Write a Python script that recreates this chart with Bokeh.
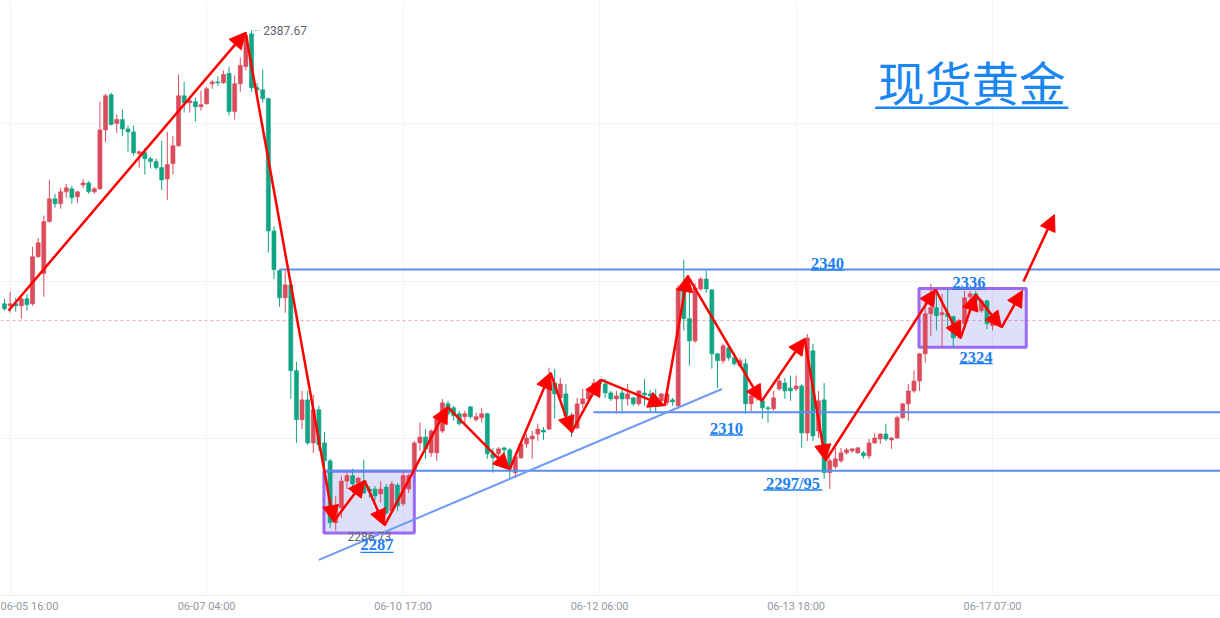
from bokeh.plotting import figure
from bokeh.models import Range1d, FixedTicker, ColumnDataSource, Arrow, NormalHead, Span, Label
from bokeh.embed import file_html
from bokeh.resources import INLINE

# ---------------- data (hourly candles, index based) ----------------
open_ = [2332.5, 2332.1, 2332.5, 2332.1, 2333.5, 2332.5, 2342.0, 2338.6, 2349.1, 2353.7,
         2352.7, 2355.1, 2355.7, 2354.1, 2356.5, 2356.9, 2355.1, 2355.7, 2367.6, 2374.7,
         2368.9, 2369.7, 2367.8, 2367.2, 2362.8, 2363.0, 2361.8, 2361.2, 2360.0, 2357.7,
         2360.8, 2364.4, 2374.5, 2373.1, 2373.3, 2372.3, 2372.9, 2376.9, 2377.3, 2377.1,
         2379.0, 2371.3, 2376.9, 2380.4, 2387.0, 2376.1, 2375.7, 2373.9, 2347.2, 2339.2,
         2333.7, 2336.3, 2319.0, 2309.1, 2313.1, 2304.4, 2311.1, 2304.4, 2300.8, 2288.3,
         2291.3, 2296.7, 2297.8, 2296.3, 2296.7, 2295.1, 2295.1, 2294.1, 2295.5, 2290.7,
         2295.9, 2292.1, 2295.1, 2298.8, 2304.4, 2305.6, 2302.4, 2302.4, 2306.8, 2312.3,
         2311.5, 2310.3, 2309.7, 2311.7, 2309.1, 2309.5, 2310.3, 2302.2, 2302.2, 2303.4,
         2303.0, 2298.4, 2301.4, 2304.2, 2305.2, 2306.2, 2307.0, 2307.2, 2316.5, 2313.5,
         2314.3, 2309.9, 2307.4, 2312.3, 2313.3, 2314.9, 2316.9, 2316.3, 2314.5, 2313.3,
         2314.5, 2313.3, 2313.5, 2312.3, 2314.5, 2314.3, 2313.5, 2312.9, 2312.5, 2313.1,
         2311.9, 2335.5, 2329.5, 2325.0, 2335.5, 2337.5, 2335.3, 2322.4, 2321.0, 2323.6,
         2321.6, 2320.0, 2320.4, 2312.3, 2313.5, 2312.9, 2311.5, 2311.3, 2315.3, 2316.5,
         2315.5, 2315.3, 2315.9, 2306.4, 2323.0, 2306.8, 2313.1, 2298.4, 2299.6, 2300.8,
         2302.4, 2302.8, 2302.4, 2302.4, 2301.8, 2304.4, 2305.2, 2306.2, 2305.0, 2305.4,
         2309.5, 2312.3, 2314.9, 2316.9, 2322.4, 2330.5, 2331.7, 2330.3, 2330.5, 2329.9,
         2326.0, 2328.5, 2333.9, 2334.5, 2331.1, 2333.1, 2328.1]
high = [2333.5, 2334.9, 2333.7, 2334.3, 2334.5, 2344.0, 2345.8, 2350.3, 2357.5, 2354.7,
        2355.9, 2356.7, 2356.3, 2355.3, 2357.7, 2357.3, 2356.1, 2373.3, 2374.9, 2375.1,
        2370.7, 2371.7, 2368.5, 2368.5, 2363.4, 2364.0, 2362.2, 2361.8, 2365.4, 2367.2,
        2366.4, 2378.8, 2377.3, 2374.1, 2374.1, 2375.5, 2376.3, 2377.7, 2378.4, 2379.6,
        2380.4, 2378.6, 2382.2, 2387.4, 2387.67, 2377.1, 2379.8, 2374.1, 2348.1, 2339.4,
        2339.2, 2337.1, 2320.8, 2314.9, 2314.9, 2314.1, 2311.9, 2306.6, 2301.2, 2293.7,
        2297.8, 2298.4, 2299.2, 2297.6, 2301.0, 2295.7, 2295.7, 2296.7, 2296.1, 2296.7,
        2296.3, 2298.4, 2298.2, 2304.8, 2308.5, 2307.2, 2307.2, 2309.5, 2313.3, 2312.9,
        2311.9, 2310.9, 2310.9, 2311.9, 2310.5, 2311.5, 2310.5, 2303.4, 2303.6, 2303.6,
        2303.4, 2302.4, 2304.8, 2306.2, 2306.8, 2308.3, 2307.6, 2319.6, 2319.4, 2317.5,
        2316.3, 2310.5, 2313.5, 2315.3, 2315.3, 2317.3, 2317.3, 2317.3, 2314.9, 2314.9,
        2315.3, 2316.3, 2313.7, 2315.1, 2317.3, 2315.1, 2315.3, 2314.5, 2314.5, 2313.5,
        2336.3, 2341.4, 2337.1, 2336.7, 2337.9, 2339.2, 2335.5, 2322.6, 2324.4, 2324.0,
        2322.6, 2321.6, 2321.4, 2314.3, 2315.3, 2313.5, 2311.9, 2314.9, 2318.0, 2317.5,
        2318.0, 2318.0, 2316.3, 2326.4, 2324.4, 2314.9, 2316.5, 2301.4, 2303.4, 2303.4,
        2303.4, 2303.4, 2303.6, 2302.8, 2305.2, 2306.4, 2306.4, 2308.3, 2305.6, 2309.9,
        2312.5, 2316.3, 2319.0, 2322.6, 2333.1, 2336.5, 2334.7, 2334.5, 2335.5, 2330.1,
        2329.5, 2335.1, 2335.1, 2335.1, 2333.5, 2333.3, 2329.5]
low = [2331.1, 2330.7, 2330.9, 2329.5, 2331.1, 2332.1, 2341.8, 2333.9, 2348.9, 2351.9,
       2351.7, 2353.9, 2352.7, 2352.9, 2355.9, 2354.7, 2354.7, 2355.5, 2365.2, 2368.5,
       2367.0, 2366.4, 2363.2, 2362.4, 2360.0, 2358.6, 2359.8, 2359.6, 2355.5, 2353.5,
       2358.6, 2364.2, 2371.1, 2371.1, 2369.3, 2371.5, 2372.7, 2375.9, 2376.5, 2376.9,
       2370.5, 2369.7, 2375.3, 2379.6, 2375.3, 2375.1, 2373.1, 2342.8, 2337.5, 2331.9,
       2330.7, 2313.3, 2304.4, 2307.2, 2304.0, 2302.4, 2302.8, 2298.8, 2287.2, 2286.73,
       2289.3, 2295.1, 2294.3, 2295.7, 2294.1, 2293.3, 2292.7, 2292.3, 2289.9, 2290.3,
       2290.7, 2291.7, 2294.3, 2297.8, 2302.8, 2301.2, 2301.6, 2300.8, 2306.4, 2309.9,
       2308.9, 2307.9, 2308.3, 2309.3, 2308.7, 2308.5, 2301.2, 2298.4, 2301.4, 2300.8,
       2297.3, 2297.3, 2301.2, 2303.4, 2301.2, 2304.8, 2305.0, 2307.0, 2309.3, 2312.9,
       2309.5, 2305.6, 2307.2, 2311.5, 2312.9, 2314.5, 2315.7, 2313.5, 2312.9, 2310.3,
       2310.3, 2311.9, 2311.9, 2311.9, 2311.9, 2310.5, 2310.5, 2311.9, 2311.9, 2311.9,
       2311.3, 2327.1, 2320.0, 2324.6, 2335.1, 2334.7, 2319.4, 2315.5, 2320.4, 2321.0,
       2320.0, 2319.6, 2310.3, 2310.5, 2312.9, 2309.3, 2308.5, 2310.9, 2314.9, 2313.3,
       2312.9, 2314.9, 2303.4, 2304.8, 2304.8, 2305.4, 2297.1, 2295.1, 2299.2, 2300.4,
       2302.0, 2302.4, 2302.2, 2301.2, 2301.2, 2304.2, 2304.2, 2304.8, 2303.2, 2305.2,
       2309.3, 2308.9, 2314.5, 2314.9, 2320.6, 2326.0, 2327.1, 2323.6, 2327.6, 2323.6,
       2325.4, 2327.4, 2333.1, 2332.5, 2330.7, 2327.4, 2327.1]
close = [2331.5, 2332.5, 2332.1, 2333.5, 2332.3, 2342.0, 2344.8, 2349.1, 2353.7, 2352.7,
         2355.1, 2355.9, 2353.9, 2355.1, 2356.9, 2355.1, 2355.7, 2367.6, 2374.5, 2368.7,
         2369.7, 2367.8, 2367.2, 2363.0, 2363.2, 2361.8, 2361.2, 2360.0, 2357.5, 2360.6,
         2364.4, 2374.5, 2373.1, 2373.5, 2372.3, 2372.7, 2375.9, 2377.3, 2377.1, 2378.8,
         2371.3, 2376.9, 2380.6, 2386.6, 2376.1, 2375.7, 2373.9, 2347.2, 2339.4, 2333.7,
         2336.3, 2319.0, 2309.1, 2313.1, 2304.4, 2311.1, 2304.0, 2300.8, 2288.3, 2291.3,
         2296.7, 2297.8, 2296.1, 2297.3, 2294.3, 2294.7, 2293.7, 2295.1, 2290.3, 2296.1,
         2291.7, 2297.8, 2297.8, 2304.4, 2305.6, 2303.2, 2306.8, 2309.3, 2312.5, 2310.3,
         2309.9, 2308.3, 2310.3, 2309.7, 2309.7, 2310.3, 2302.2, 2301.4, 2303.2, 2303.0,
         2299.2, 2301.6, 2304.2, 2305.4, 2305.8, 2307.2, 2306.6, 2315.9, 2314.3, 2316.3,
         2309.9, 2307.4, 2312.3, 2313.3, 2314.9, 2316.5, 2316.3, 2314.5, 2313.3, 2313.9,
         2313.3, 2314.3, 2312.3, 2314.9, 2314.1, 2313.9, 2312.9, 2314.3, 2314.3, 2312.7,
         2335.7, 2329.5, 2325.0, 2335.7, 2337.5, 2335.5, 2322.4, 2321.0, 2324.0, 2321.6,
         2320.4, 2321.0, 2312.3, 2313.9, 2314.9, 2311.5, 2311.3, 2313.5, 2316.9, 2314.9,
         2314.9, 2315.9, 2306.4, 2325.6, 2305.8, 2312.9, 2298.4, 2300.8, 2301.2, 2302.4,
         2303.0, 2303.2, 2303.4, 2301.8, 2304.4, 2305.4, 2306.2, 2305.2, 2305.4, 2309.5,
         2312.3, 2314.9, 2316.9, 2322.4, 2330.5, 2331.7, 2330.1, 2330.7, 2329.9, 2325.6,
         2329.1, 2333.7, 2334.5, 2333.1, 2333.1, 2328.5, 2329.1]

tick_idx = [1, 36, 71, 106, 141, 176]
tick_labels = ["06-05 16:00", "06-07 04:00", "06-10 17:00", "06-12 06:00", "06-13 18:00", "06-17 07:00"]
y_grid = [2305.3, 2337.0, 2368.9]

# hand-drawn annotations (index, price)
pivot_idx = [0.71, 42.93, 58.6, 64.13, 67.69, 78.91, 89.95, 97.26, 100.99, 106.16,
             117.56, 121.66, 134.84, 142.5, 146.24, 165.84, 170.29, 172.96, 177.59, 181.33]
pivot_price = [2331.1, 2387.3, 2288.5, 2296.8, 2287.7, 2311.7, 2299.0, 2318.6, 2306.5, 2317.2,
               2311.9, 2338.2, 2312.8, 2325.5, 2300.8, 2335.4, 2325.5, 2334.4, 2327.7, 2335.2]
breakout_idx = [181.51, 187.03]
breakout_price = [2337.0, 2350.5]

level_price = [2339.4, 2310.6, 2298.8]
level_start = [48.98, 104.9, 56.9]

box_left = [56.9, 162.9]
box_right = [73.0, 182.0]
box_top = [2298.7, 2335.6]
box_bottom = [2286.2, 2323.7]

trend_idx = [56.0, 127.8]
trend_price = [2280.8, 2315.3]

label_text = ["2340", "2310", "2297/95", "2287", "2336", "2324"]
label_idx = [146.6, 128.6, 140.45, 66.35, 171.8, 173.05]
label_mid = [2340.7, 2307.4, 2296.3, 2283.9, 2336.8, 2321.7]
label_uline = [2339.3, 2306.0, 2294.9, 2282.3, 2335.4, 2320.4]
label_half = [2.95, 2.95, 5.25, 2.95, 2.95, 2.95]

title_text = "现货黄金"
title_idx = 172.3
title_price = 2377.6
title_line_idx = [155.1, 189.5]
title_line_price = 2372.1

# ---------------- figure ----------------
RED = "#dc4b5c"
GREEN = "#10a585"
BLUE = "#5a8ef2"
LBLUE = "#1c80f2"

p = figure(width=1220, height=618, x_range=Range1d(-0.712, 216.6), y_range=Range1d(2273.6, 2393.73),
           output_backend="svg", toolbar_location=None,
           min_border_left=0, min_border_right=0, min_border_top=0, min_border_bottom=23)
p.outline_line_color = None
p.background_fill_color = "white"
p.yaxis.visible = False

p.xaxis.ticker = FixedTicker(ticks=tick_idx)
p.xaxis.major_label_overrides = {t: l for t, l in zip(tick_idx, tick_labels)}
p.xaxis.major_tick_line_color = None
p.xaxis.minor_tick_line_color = None
p.xaxis.major_tick_out = 0
p.xaxis.major_tick_in = 0
p.xaxis.minor_tick_out = 0
p.xaxis.minor_tick_in = 0
p.xaxis.axis_line_color = "#eceef2"
p.xaxis.major_label_text_font = "Roboto"
p.xaxis.major_label_text_font_size = "11px"
p.xaxis.major_label_text_color = "#9598a1"
p.xaxis.major_label_standoff = 4

p.xgrid[0].ticker = FixedTicker(ticks=tick_idx)
p.ygrid[0].ticker = FixedTicker(ticks=y_grid)
p.xgrid.grid_line_color = "#f2f3f6"
p.ygrid.grid_line_color = "#f2f3f6"

# current price dashed line
p.add_layout(Span(location=close[-1], dimension="width", line_color="#f3a3a9",
                  line_dash="3 3", line_width=1, level="underlay"))

# boxes
p.quad(left=box_left, right=box_right, top=box_top, bottom=box_bottom,
       fill_color="#5b66e6", fill_alpha=0.2, line_color="#9a6af5", line_width=3)

# candles
idx = list(range(len(close)))
colors = [RED if c >= o else GREEN for o, c in zip(open_, close)]
src = ColumnDataSource(dict(x=idx, o=open_, h=high, l=low, c=close,
                            top=[max(o, c) for o, c in zip(open_, close)],
                            bot=[min(o, c) for o, c in zip(open_, close)],
                            col=colors))
p.segment(x0="x", y0="l", x1="x", y1="h", color="col", line_width=1, source=src)
p.vbar(x="x", width=0.72, top="top", bottom="bot", fill_color="col", line_color="col",
       line_width=0.6, source=src)

# levels
p.segment(x0=level_start, y0=level_price, x1=[230] * len(level_price), y1=level_price,
          line_color=BLUE, line_width=2)
# trend line
p.line(trend_idx, trend_price, line_color="#6e99f5", line_width=2)

# arrows
arr = ColumnDataSource(dict(x0=pivot_idx[:-1] + [breakout_idx[0]],
                            y0=pivot_price[:-1] + [breakout_price[0]],
                            x1=pivot_idx[1:] + [breakout_idx[1]],
                            y1=pivot_price[1:] + [breakout_price[1]]))
p.add_layout(Arrow(end=NormalHead(size=16, fill_color="#ff0000", line_color="#ff0000", line_width=1),
                   x_start="x0", y_start="y0", x_end="x1", y_end="y1", source=arr,
                   line_color="#ff0000", line_width=2.5))

# extreme labels
hi_i = high.index(max(high))
lo_i = low.index(min(low))
p.segment(x0=[hi_i + 0.2], y0=[max(high)], x1=[hi_i + 1.8], y1=[max(high)],
          line_color="#8a8d96", line_width=1, line_dash="1 2")
p.add_layout(Label(x=hi_i + 2.1, y=max(high), text=f"{max(high):.2f}", text_font="Roboto",
                   text_font_size="12px", text_color="#5f6370", text_align="left",
                   text_baseline="middle"))
p.segment(x0=[lo_i], y0=[min(low) - 0.7], x1=[lo_i + 1.9], y1=[min(low) - 0.7],
          line_color="#8a8d96", line_width=1, line_dash="1 2")
p.add_layout(Label(x=lo_i + 2.1, y=min(low) - 1.3, text=f"{min(low):.2f}", text_font="Roboto",
                   text_font_size="12px", text_color="#5f6370", text_align="left",
                   text_baseline="middle"))

# level labels with underline
for t, xi, yp in zip(label_text, label_idx, label_mid):
    p.add_layout(Label(x=xi, y=yp, text=t, text_font="Liberation Serif", text_font_size="16.5px",
                       text_font_style="bold", text_color=LBLUE, text_align="center",
                       text_baseline="middle"))
p.segment(x0=[a - b for a, b in zip(label_idx, label_half)], y0=label_uline,
          x1=[a + b for a, b in zip(label_idx, label_half)], y1=label_uline,
          line_color=LBLUE, line_width=1.3)

# title
p.add_layout(Label(x=title_idx, y=title_price, text=title_text, text_font="Noto Sans CJK SC",
                   text_font_size="47px", text_color="#1a86f2", text_align="center",
                   text_baseline="middle"))
p.segment(x0=[title_line_idx[0]], y0=[title_line_price], x1=[title_line_idx[1]], y1=[title_line_price],
          line_color="#1a86f2", line_width=2.5)

open("out.html", "w").write(file_html(p, INLINE))
